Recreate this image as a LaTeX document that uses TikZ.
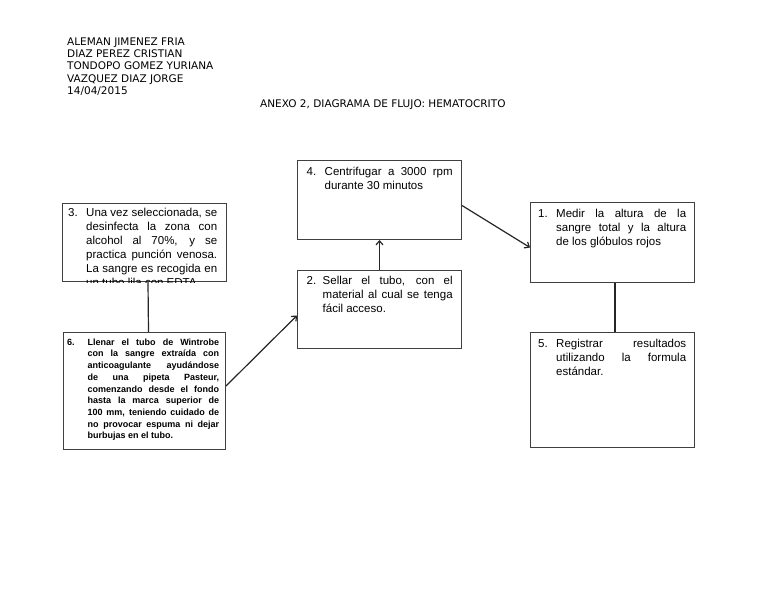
\documentclass[tikz,border=0pt]{standalone}
\usepackage{fontspec}
\setmainfont{Liberation Sans}
\newfontfamily\hdrfont{DejaVu Sans}
\usetikzlibrary{arrows.meta}
% numbered paragraph with hanging indent: [hang]{width}{number}{text}
\newcommand{\numitem}[4][18pt]{\parbox[t]{#2}{\noindent\hangindent=#1\hangafter=1\makebox[#1][l]{#3}#4}}

\begin{document}
\begin{tikzpicture}[x=1pt,y=-1pt,
  box/.style={draw=black!75,line width=1pt,anchor=north west,inner sep=0pt,minimum width=164pt,minimum height=79pt},
  tallbox/.style={box,minimum height=116pt},
  txt/.style={anchor=north west,inner sep=0pt,font=\fontsize{11.5}{14}\selectfont},
  smalltxt/.style={txt,font=\fontsize{9}{11.7}\selectfont\bfseries},
  hdr/.style={inner sep=0pt,font=\hdrfont\fontsize{10.5}{12.3}\selectfont},
  link/.style={line width=1.2pt,black!85},
  flow/.style={link,-{Straight Barb[length=4pt,width=7pt]}}]
\useasboundingbox (0,0) rectangle (768,594);

% header
\node[hdr,anchor=north west,align=left] (names) at (67,37.5) {ALEMAN JIMENEZ FRIA\\DIAZ PEREZ CRISTIAN\\TONDOPO GOMEZ YURIANA\\VAZQUEZ DIAZ JORGE\\14/04/2015};
\node[hdr,anchor=base west] (title) at (260,107) {ANEXO 2, DIAGRAMA DE FLUJO: HEMATOCRITO};

% boxes
\node[box,minimum height=78pt] (b3) at (62,203) {};
\node[tallbox,minimum width=162pt,minimum height=117pt] (b6) at (63,332) {};
\node[box] (b4) at (297,160) {};
\node[box,minimum height=78pt] (b2) at (297,270) {};
\node[box,minimum height=80pt] (b1) at (530,202) {};
\node[tallbox,minimum height=115pt] (b5) at (530,332) {};

% texts
\begin{scope}
\clip (b3.north west) rectangle (b3.south east);
\node[txt] (t3) at ([shift={(6pt,-4.5pt)}]b3.north west) {\numitem{149pt}{3.}{Una vez seleccionada, se\linebreak desinfecta la zona con\linebreak alcohol al 70\%, y se\linebreak practica punción venosa.\linebreak La sangre es recogida en\linebreak un tubo lila con EDTA}};
\end{scope}
\node[smalltxt] (t6) at ([shift={(4pt,-6.5pt)}]b6.north west) {\numitem[20.5pt]{152pt}{6.}{Llenar el tubo de Wintrobe\linebreak con la sangre extraída con\linebreak anticoagulante ayudándose\linebreak de una pipeta Pasteur,\linebreak comenzando desde el fondo\linebreak hasta la marca superior de\linebreak 100 mm, teniendo cuidado de\linebreak no provocar espuma ni dejar\linebreak burbujas en el tubo.}};
\node[txt] (t4) at ([shift={(9.5pt,-6.5pt)}]b4.north west) {\numitem{146pt}{4.}{Centrifugar a 3000 rpm\linebreak durante 30 minutos}};
\node[txt] (t2) at ([shift={(9.5pt,-5.5pt)}]b2.north west) {\numitem[16pt]{146pt}{2.}{Sellar el tubo, con el\linebreak material al cual se tenga\linebreak fácil acceso.}};
\node[txt] (t1) at ([shift={(8pt,-7pt)}]b1.north west) {\numitem{148pt}{1.}{Medir la altura de la\linebreak sangre total y la altura\linebreak de los glóbulos rojos}};
\node[txt] (t5) at ([shift={(8pt,-7pt)}]b5.north west) {\numitem{148pt}{5.}{Registrar resultados\linebreak utilizando la formula\linebreak estándar.}};

% connectors
\draw[link] ([xshift=3.5pt]b3.south) -- ([xshift=4pt]b6.north);
\draw[link] ([xshift=2.5pt]b1.south) -- ([xshift=2.5pt]b5.north);
\draw[flow] ([yshift=5pt]b6.east) -- ([yshift=-6pt]b2.west);
\draw[flow] (b2.north) -- (b4.south);
\draw[flow] ([yshift=-5.5pt]b4.east) -- ([yshift=-5pt]b1.west);
\end{tikzpicture}
\end{document}
